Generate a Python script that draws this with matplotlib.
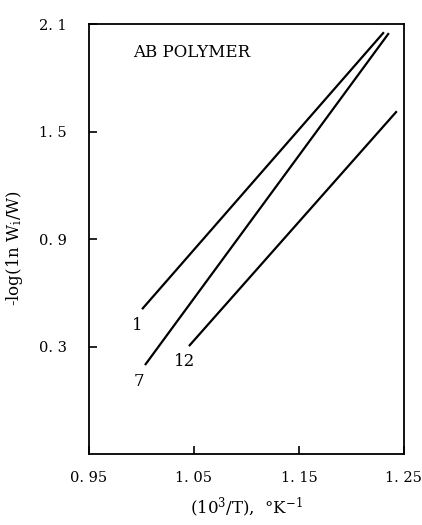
import matplotlib
matplotlib.use("Agg")
import matplotlib.pyplot as plt

# line end points (x = 10^3/T, y = -log(ln Wi/W))
labels = ["1", "7", "12"]
x_start = [1.0005, 1.0033, 1.0452]
y_start = [0.509, 0.197, 0.303]
x_end = [1.231, 1.2357, 1.2433]
y_end = [2.055, 2.050, 1.614]

xticks = [0.95, 1.05, 1.15, 1.25]
xtick_labels = ["0. 95", "1. 05", "1. 15", "1. 25"]
yticks = [0.3, 0.9, 1.5, 2.1]
ytick_labels = ["0. 3", "0. 9", "1. 5", "2. 1"]

plt.rcParams["font.family"] = ["DejaVu Serif"]
plt.rcParams["mathtext.fontset"] = "dejavuserif"

fig = plt.figure(figsize=(4.22, 5.25), dpi=100)
ax = fig.add_axes([0.211, 0.135, 0.746, 0.819])

for xs, ys, xe, ye in zip(x_start, y_start, x_end, y_end):
    ax.plot([xs, xe], [ys, ye], color="black", lw=1.6, solid_capstyle="butt")

# curve labels near the lower ends
offsets = [(-0.005, -0.09), (-0.006, -0.09), (-0.004, -0.084)]
for lab, xs, ys, (dx, dy) in zip(labels, x_start, y_start, offsets):
    ax.text(xs + dx, ys + dy, lab, fontsize=12, ha="center", va="center")

ax.text(0.992, 1.944, "AB POLYMER", fontsize=12, ha="left", va="center")

ax.set_xlim(0.95, 1.25)
ax.set_ylim(-0.3, 2.1)
ax.set_xticks(xticks)
ax.set_xticklabels(xtick_labels)
ax.set_yticks(yticks)
ax.set_yticklabels(ytick_labels)
ax.tick_params(direction="in", length=6, width=1.2, labelsize=10.5)
ax.tick_params(axis="x", pad=12)
ax.tick_params(axis="y", pad=16)

for sp in ax.spines.values():
    sp.set_linewidth(1.3)

ax.set_xlabel(r"(10$^3$/T),  °K$^{-1}$", fontsize=12, labelpad=8)
ax.set_ylabel(r"-log(1n W$_{\rm i}$/W)", fontsize=12)
ax.yaxis.set_label_coords(-0.205, 0.48)

fig.savefig("out.png", dpi=100)
